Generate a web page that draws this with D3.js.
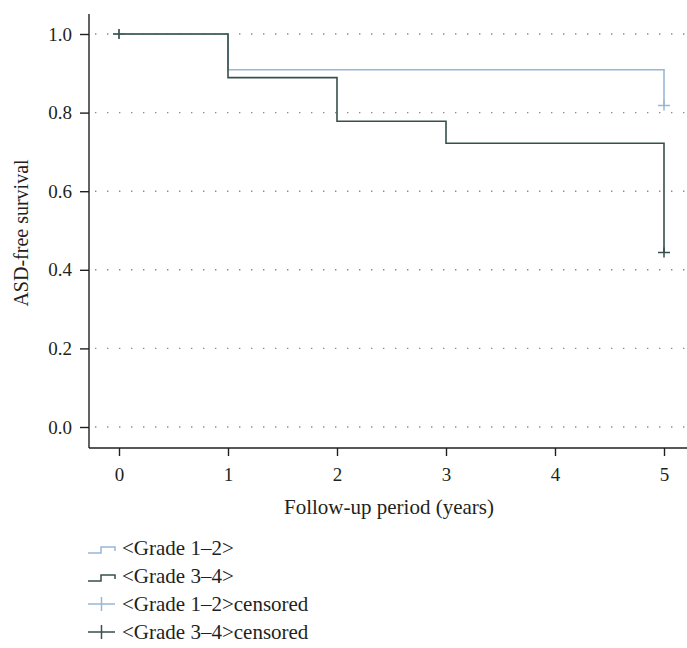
<!DOCTYPE html>
<html><head><meta charset="utf-8">
<script src="https://cdn.jsdelivr.net/npm/d3@7"></script>
<style>body{margin:0;background:#fff}svg{display:block}</style>
</head><body><svg id="c" width="687" height="648"></svg>
<script>
const seriesNames = ["<Grade 1\u20132>", "<Grade 3\u20134>"];
const grade12Times = [0, 1, 5];
const grade12Surv = [1.0, 0.909, 0.818];
const grade34Times = [0, 1, 2, 3, 5];
const grade34Surv = [1.0, 0.889, 0.778, 0.722, 0.444];
const grade12Censor = [[0, 1.0], [5, 0.818]];
const grade34Censor = [[0, 1.0], [5, 0.444]];
const xTicks = [0, 1, 2, 3, 4, 5];
const yTicks = [0.0, 0.2, 0.4, 0.6, 0.8, 1.0];
const legendLabels = ["<Grade 1\u20132>", "<Grade 3\u20134>", "<Grade 1\u20132>censored", "<Grade 3\u20134>censored"];
const colors = ["#98b6d6", "#36504b"];

const FONT = "Liberation Serif, Tinos, Times New Roman, DejaVu Serif, serif";
const INK = "#231f20";
const svg = d3.select("#c").attr("font-family", FONT);
const mLeft = 89, mRight = 687, mTop = 14, mBottom = 448;
const x = d3.scaleLinear().domain([0, 5]).range([119, 664]);
const y = d3.scaleLinear().domain([0, 1]).range([427, 34]);

// grid
svg.append("g").selectAll("line").data(yTicks).join("line")
  .attr("x1", mLeft + 6).attr("x2", mRight)
  .attr("y1", d => y(d)).attr("y2", d => y(d))
  .attr("stroke", "#8a8a8a").attr("stroke-width", 1.4)
  .attr("stroke-dasharray", "1.4,10.6");

// axes
const yAxis = d3.axisLeft(y).tickValues(yTicks).tickFormat(d3.format(".1f")).tickSize(9).tickPadding(8);
const gy = svg.append("g").attr("transform", `translate(${mLeft},0)`).call(yAxis)
  .attr("font-family", FONT).attr("font-size", 19);
gy.select(".domain").attr("d", `M0,${mTop}V${mBottom}`).attr("stroke", INK).attr("stroke-width", 1.4);
gy.selectAll(".tick line").attr("stroke", INK).attr("stroke-width", 1.4);
gy.selectAll("text").attr("fill", INK).attr("font-family", FONT);

const xAxis = d3.axisBottom(x).tickValues(xTicks).tickFormat(d3.format("d")).tickSize(8).tickPadding(12);
const gx = svg.append("g").attr("transform", `translate(0,${mBottom})`).call(xAxis)
  .attr("font-family", FONT).attr("font-size", 19);
gx.select(".domain").attr("d", `M${mLeft},0H${mRight}`).attr("stroke", INK).attr("stroke-width", 1.4);
gx.selectAll(".tick line").attr("stroke", INK).attr("stroke-width", 1.4);
gx.selectAll("text").attr("fill", INK).attr("font-family", FONT);

svg.append("text").attr("x", 389).attr("y", 514).attr("text-anchor", "middle")
  .attr("font-family", FONT).attr("font-size", 21).attr("fill", INK).text("Follow-up period (years)");
svg.append("text").attr("transform", "translate(28,233) rotate(-90)").attr("text-anchor", "middle")
  .attr("font-family", FONT).attr("font-size", 20).attr("fill", INK).text("ASD-free survival");

// step curves
function steps(times, surv) {
  const pts = [];
  times.forEach((t, i) => {
    if (i > 0) pts.push([t, surv[i - 1]]);
    pts.push([t, surv[i]]);
  });
  return pts;
}
const line = d3.line().x(d => x(d[0])).y(d => y(d[1]));
const curves = [steps(grade12Times, grade12Surv), steps(grade34Times, grade34Surv)];
const censors = [grade12Censor, grade34Censor];

[0, 1].forEach(i => {
  svg.append("path").attr("d", line(curves[i])).attr("fill", "none")
    .attr("stroke", colors[i]).attr("stroke-width", 1.6);
});
[0, 1].forEach(i => {
  svg.append("g").selectAll("path").data(censors[i]).join("path")
    .attr("d", d => `M${x(d[0]) - 6},${y(d[1])}H${x(d[0]) + 6}M${x(d[0])},${y(d[1]) - 5}V${y(d[1]) + 5}`)
    .attr("stroke", colors[i]).attr("stroke-width", 1.5).attr("fill", "none");
});

// legend
const legY = [555, 583, 611, 639];
legendLabels.forEach((lab, i) => {
  const g = svg.append("g").attr("transform", `translate(88,${legY[i]})`);
  const c = colors[i % 2];
  if (i < 2) {
    g.append("path").attr("d", "M0,-2H13V-8H27V-4").attr("fill", "none").attr("stroke", c).attr("stroke-width", 1.5);
  } else {
    g.append("path").attr("d", "M0,-7H27M13.5,-14V0").attr("fill", "none").attr("stroke", c).attr("stroke-width", 1.5);
  }
  g.append("text").attr("x", 34).attr("y", 0).attr("font-family", FONT).attr("font-size", 21)
    .attr("fill", INK).text(lab);
});
</script></body></html>
